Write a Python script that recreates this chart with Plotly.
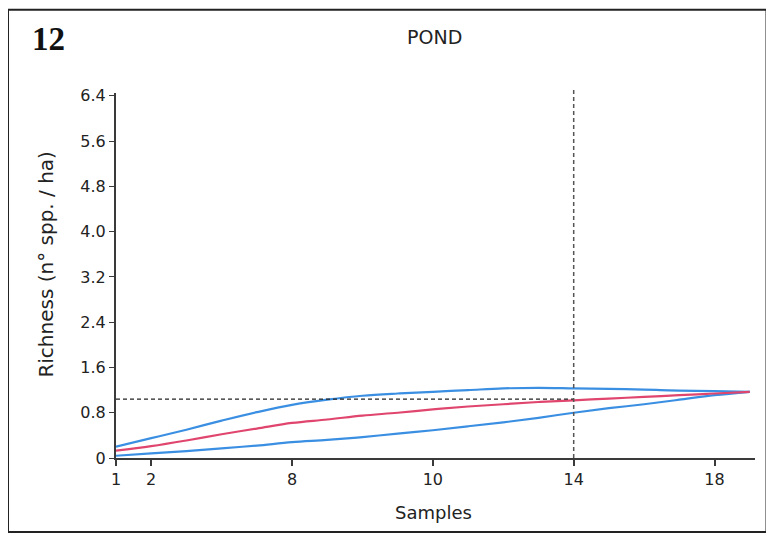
import plotly.graph_objects as go

samples = list(range(1, 20))
upper_blue = [0.20, 0.35, 0.50, 0.66, 0.81, 0.94, 1.03, 1.10, 1.14, 1.17,
              1.20, 1.23, 1.24, 1.23, 1.22, 1.21, 1.19, 1.18, 1.17]
red_mean = [0.13, 0.21, 0.31, 0.42, 0.52, 0.62, 0.68, 0.75, 0.80, 0.86,
            0.91, 0.95, 0.99, 1.02, 1.05, 1.08, 1.11, 1.14, 1.17]
lower_blue = [0.04, 0.08, 0.12, 0.17, 0.22, 0.28, 0.32, 0.37, 0.43, 0.49,
              0.56, 0.63, 0.71, 0.80, 0.88, 0.95, 1.03, 1.11, 1.17]

x_tickvals = [1, 2, 6, 10, 14, 18]
x_ticktext = ["1", "2", "8", "10", "14", "18"]
y_tickvals = [0, 0.8, 1.6, 2.4, 3.2, 4.0, 4.8, 5.6, 6.4]
y_ticktext = ["0", "0.8", "1.6", "2.4", "3.2", "4.0", "4.8", "5.6", "6.4"]

ref_sample = 14
ref_richness = 1.04

BLUE = "#3b8fe2"
RED = "#e0456e"
AXIS = "#3a3a3a"
FONT = "DejaVu Sans"

fig = go.Figure()
for ys, col in [(upper_blue, BLUE), (lower_blue, BLUE), (red_mean, RED)]:
    fig.add_trace(go.Scatter(x=samples, y=ys, mode="lines",
                             line=dict(color=col, width=2.2, shape="spline"),
                             showlegend=False, hoverinfo="skip"))

# reference dashed lines
fig.add_trace(go.Scatter(x=[1, ref_sample], y=[ref_richness, ref_richness], mode="lines",
                         line=dict(color="#222", width=1.2, dash="4px,3px"),
                         showlegend=False, hoverinfo="skip"))
fig.add_shape(type="line", xref="x", yref="paper", x0=ref_sample, x1=ref_sample,
              y0=0, y1=1.014, line=dict(color="#555", width=1.5, dash="4px,3px"))

# outer frame
fig.add_shape(type="rect", xref="paper", yref="paper",
              x0=-0.169, x1=1.018, y0=-0.203, y1=1.228,
              line=dict(color="#222", width=2), layer="below")

fig.update_layout(
    width=766, height=528,
    margin=dict(l=108, r=19, t=85, b=78),
    paper_bgcolor="white", plot_bgcolor="white",
    font=dict(family=FONT, size=16, color="#222"),
    xaxis=dict(range=[1, 19.15], tickvals=x_tickvals, ticktext=x_ticktext,
               showgrid=False, zeroline=False, showline=True,
               linecolor=AXIS, linewidth=2, ticks="outside", ticklen=6,
               tickcolor=AXIS, tickwidth=1.5, tickfont=dict(size=16)),
    yaxis=dict(range=[0, 6.45], tickvals=y_tickvals, ticktext=y_ticktext,
               showgrid=False, zeroline=False, showline=True,
               linecolor=AXIS, linewidth=2, ticks="outside", ticklen=5,
               tickcolor=AXIS, tickwidth=1.2, tickfont=dict(size=16)),
    annotations=[
        dict(text="<b>12</b>", xref="paper", yref="paper", x=-0.135, y=1.148,
             xanchor="left", yanchor="middle", showarrow=False,
             font=dict(family="Liberation Serif", size=33, color="#111")),
        dict(text="POND", xref="paper", yref="paper", x=0.499, y=1.153,
             xanchor="center", yanchor="middle", showarrow=False,
             font=dict(family=FONT, size=19, color="#222")),
        dict(text="Samples", xref="paper", yref="paper", x=0.497, y=-0.148,
             xanchor="center", yanchor="middle", showarrow=False,
             font=dict(family=FONT, size=18, color="#222")),
        dict(text="Richness (n° spp. / ha)", xref="paper", yref="paper",
             x=-0.111, y=0.53, xanchor="center", yanchor="middle",
             textangle=-90, showarrow=False,
             font=dict(family=FONT, size=20, color="#222")),
    ],
)

fig.write_html("out.html")
